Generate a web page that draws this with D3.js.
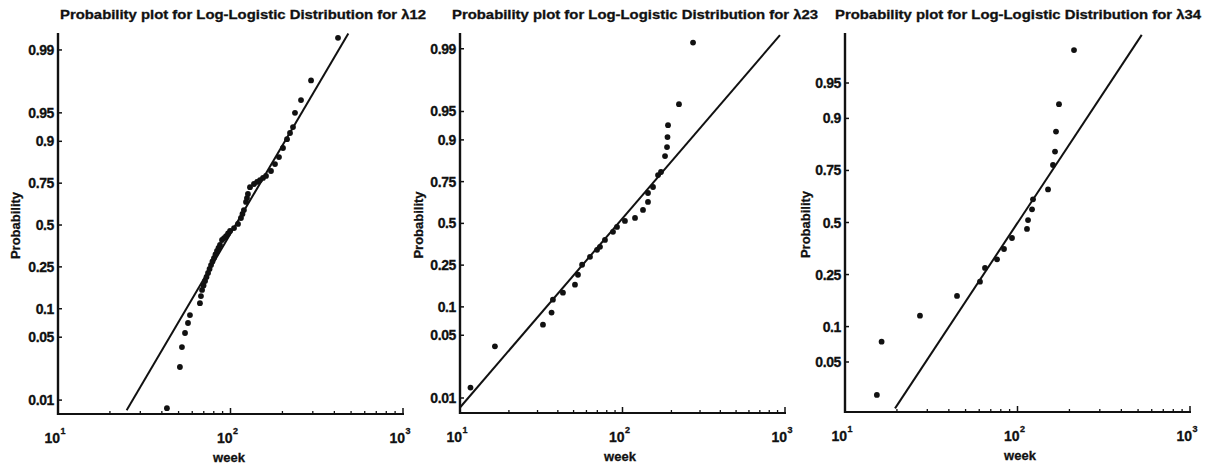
<!DOCTYPE html>
<html><head><meta charset="utf-8">
<script src="https://cdn.jsdelivr.net/npm/d3@7"></script>
<style>
body{margin:0;background:#fff}
svg{display:block}
text{font-family:"Liberation Sans",Arial,sans-serif;font-weight:bold;fill:#111;stroke:#111;stroke-width:0.3}
</style>
</head><body>
<svg id="chart" width="1210" height="466"></svg>
<script>
// ---------------- data ----------------
const titles = [
  "Probability plot for Log-Logistic Distribution for \u03bb12",
  "Probability plot for Log-Logistic Distribution for \u03bb23",
  "Probability plot for Log-Logistic Distribution for \u03bb34"
];
const xTickValues = [10, 100, 1000];
const xTickExponents = ["1", "2", "3"];
const yTicksA = [0.01, 0.05, 0.1, 0.25, 0.5, 0.75, 0.9, 0.95, 0.99];
const yTicksB = [0.05, 0.1, 0.25, 0.5, 0.75, 0.9, 0.95];
const yTickLabelsA = ["0.01","0.05","0.1","0.25","0.5","0.75","0.9","0.95","0.99"];
const yTickLabelsB = ["0.05","0.1","0.25","0.5","0.75","0.9","0.95"];

const weeks12 = [42.8,50.9,52.3,54.5,56.7,58.2,66.5,67.4,68.4,69.8,71.2,72.6,74.1,75.6,77.1,78.6,80.2,81.8,83.5,85.2,86.9,89.3,91.7,94.2,96.8,99.4,104.8,110.5,115.0,117.3,119.6,123.0,124.6,126.2,129.7,136.8,142.4,148.2,154.3,160.6,171.7,181.1,191.0,201.5,212.6,221.3,230.3,236.5,256.3,293.1,420];
const probs12 = [0.0081,0.0235,0.039,0.0555,0.071,0.086,0.114,0.134,0.154,0.170,0.187,0.204,0.221,0.240,0.259,0.278,0.296,0.316,0.336,0.354,0.372,0.403,0.415,0.428,0.445,0.461,0.480,0.507,0.546,0.572,0.597,0.647,0.670,0.693,0.730,0.746,0.756,0.765,0.775,0.784,0.805,0.832,0.856,0.883,0.905,0.918,0.929,0.950,0.9637,0.978,0.9927];

const weeks23 = [11.6,16.4,32.4,36.6,37.3,43.0,51.0,53.2,56.4,63.1,69.7,72.7,78.0,87.4,92.5,103.5,119.4,133.7,143.5,143.5,154.1,165.4,172.5,182.7,187.9,189.2,190.6,222.6,271.7];
const probs23 = [0.0131,0.0379,0.0651,0.0872,0.1184,0.139,0.166,0.2056,0.2518,0.2934,0.3328,0.3505,0.393,0.4445,0.477,0.5164,0.536,0.5877,0.6375,0.690,0.7227,0.781,0.7944,0.8547,0.8816,0.9064,0.9299,0.9584,0.9915];

const weeks34 = [15.3,16.3,27.2,44.6,60.6,64.8,76.1,83.5,92.9,113.5,115.1,121.4,123.0,150.3,160.6,165.0,167.2,174.0,212.6];
const probs34 = [0.0256,0.0748,0.1228,0.175,0.2228,0.277,0.315,0.3638,0.419,0.466,0.513,0.569,0.620,0.668,0.771,0.817,0.872,0.924,0.9744];

// fitted reference lines: [week, probability] end points
const fitWeeks12 = [25.0, 482];
const fitProbs12 = [0.0077, 0.9935];
const fitWeeks23 = [10, 931];
const fitProbs23 = [0.0078, 0.9930];
const fitWeeks34 = [19.5, 525];
const fitProbs34 = [0.0194, 0.9813];

// ---------------- layout ----------------
const panels = [
  {title: titles[0], weeks: weeks12, probs: probs12, fw: fitWeeks12, fp: fitProbs12,
   yTicks: yTicksA, yLabels: yTickLabelsA, x0: 58, x1: 403, yTop: 33, yBot: 414,
   logitDom: [-4.96, 5.04], titleX: 243, ylabX: 16, xlabX: 229},
  {title: titles[1], weeks: weeks23, probs: probs23, fw: fitWeeks23, fp: fitProbs23,
   yTicks: yTicksA, yLabels: yTickLabelsA, x0: 460, x1: 785, yTop: 33, yBot: 413,
   logitDom: [-4.99, 5.01], titleX: 635, ylabX: 419, xlabX: 620},
  {title: titles[2], weeks: weeks34, probs: probs34, fw: fitWeeks34, fp: fitProbs34,
   yTicks: yTicksB, yLabels: yTickLabelsB, x0: 845, x1: 1190, yTop: 33, yBot: 412,
   logitDom: [-4, 4], titleX: 1018, ylabX: 806, xlabX: 1020}
];

const logit = p => Math.log(p / (1 - p));
const svg = d3.select("#chart");

panels.forEach(P => {
  const g = svg.append("g");
  const x = d3.scaleLog().domain([10, 1000]).range([P.x0, P.x1]);
  const yL = d3.scaleLinear().domain(P.logitDom).range([P.yBot, P.yTop]);
  const y = p => yL(logit(p));

  // title
  g.append("text").attr("x", P.titleX).attr("y", 19)
    .attr("text-anchor", "middle").attr("font-size", 12.5)
    .attr("textLength", 366).attr("lengthAdjust", "spacingAndGlyphs")
    .text(P.title);

  // fitted line
  const lineData = P.fw.map((w, i) => [w, P.fp[i]]);
  g.append("path")
    .attr("d", d3.line().x(d => x(d[0])).y(d => y(d[1]))(lineData))
    .attr("stroke", "#111").attr("stroke-width", 2).attr("fill", "none");

  // data points
  g.selectAll("circle.pt").data(P.weeks.map((w, i) => [w, P.probs[i]]))
    .join("circle").attr("class", "pt")
    .attr("cx", d => x(d[0])).attr("cy", d => y(d[1]))
    .attr("r", 2.9).attr("fill", "#111");

  // x axis
  const xAxis = d3.axisBottom(x).tickValues([]).tickSize(0).tickSizeOuter(0);
  const xg = g.append("g").attr("transform", `translate(0,${P.yBot})`).call(xAxis);
  xg.select(".domain").attr("stroke", "#111").attr("stroke-width", 2.2)
    .attr("d", `M${P.x0 - 1},0H${P.x1 + 1}`);
  // minor + major ticks (inward)
  const minor = [];
  [10, 100].forEach(dec => { for (let k = 2; k <= 9; k++) minor.push(dec * k); });
  g.selectAll("line.minor").data(minor).join("line").attr("class", "minor")
    .attr("x1", d => x(d)).attr("x2", d => x(d))
    .attr("y1", P.yBot).attr("y2", P.yBot - 3)
    .attr("stroke", "#111").attr("stroke-width", 1.3);
  g.selectAll("line.major").data(xTickValues).join("line").attr("class", "major")
    .attr("x1", d => x(d)).attr("x2", d => x(d))
    .attr("y1", P.yBot).attr("y2", P.yBot - 6)
    .attr("stroke", "#111").attr("stroke-width", 1.5);
  // x tick labels 10^n
  xTickValues.forEach((v, i) => {
    const t = g.append("text").attr("x", x(v) - 3).attr("y", P.yBot + 29)
      .attr("text-anchor", "middle").attr("font-size", 14);
    t.append("tspan").text("10");
    t.append("tspan").attr("font-size", 9).attr("dy", -9).attr("dx", 0.5).text(xTickExponents[i]);
  });
  // x label
  g.append("text").attr("x", P.xlabX).attr("y", P.yBot + 48)
    .attr("text-anchor", "middle").attr("font-size", 13).text("week");

  // y axis
  g.append("line").attr("x1", P.x0).attr("x2", P.x0)
    .attr("y1", P.yTop).attr("y2", P.yBot + 1)
    .attr("stroke", "#111").attr("stroke-width", 2.4);
  g.selectAll("line.yt").data(P.yTicks).join("line").attr("class", "yt")
    .attr("x1", P.x0).attr("x2", P.x0 + 4)
    .attr("y1", d => y(d)).attr("y2", d => y(d))
    .attr("stroke", "#111").attr("stroke-width", 1.5);
  g.selectAll("text.yl").data(P.yTicks).join("text").attr("class", "yl")
    .attr("x", P.x0 - 4).attr("y", d => y(d) + 5)
    .attr("text-anchor", "end").attr("font-size", 14)
    .attr("letter-spacing", -0.4)
    .text((d, i) => P.yLabels[i]);
  // y label
  g.append("text")
    .attr("transform", `translate(${P.ylabX + 4},${(P.yTop + P.yBot) / 2 + 2}) rotate(-90)`)
    .attr("text-anchor", "middle").attr("font-size", 13).text("Probability");
});
</script>
</body></html>
